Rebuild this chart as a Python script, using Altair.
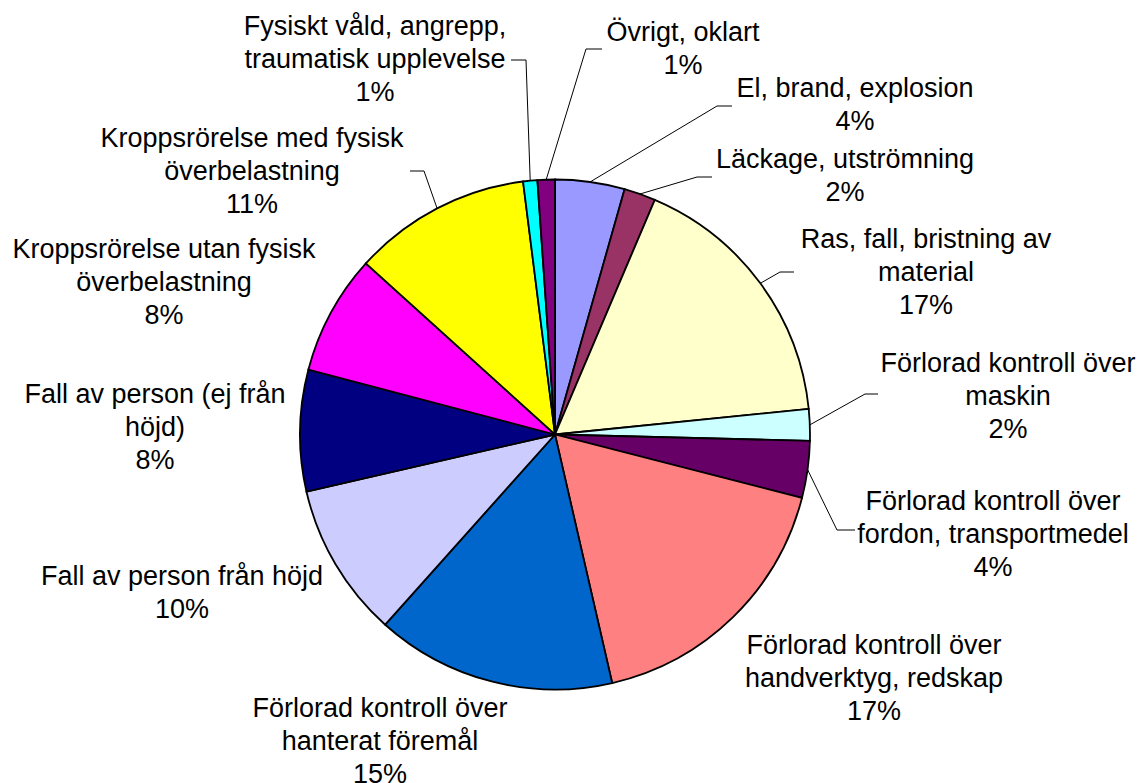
import math
import altair as alt
import pandas as pd

# ---------------- data ----------------
categories = [
    "El, brand, explosion",
    "Läckage, utströmning",
    "Ras, fall, bristning av material",
    "Förlorad kontroll över maskin",
    "Förlorad kontroll över fordon, transportmedel",
    "Förlorad kontroll över handverktyg, redskap",
    "Förlorad kontroll över hanterat föremål",
    "Fall av person från höjd",
    "Fall av person (ej från höjd)",
    "Kroppsrörelse utan fysisk överbelastning",
    "Kroppsrörelse med fysisk överbelastning",
    "Fysiskt våld, angrepp, traumatisk upplevelse",
    "Övrigt, oklart",
]
values = [4.4, 2.0, 17.0, 2.0, 3.6, 17.4, 15.2, 9.8, 7.7, 7.6, 11.3, 0.9, 1.1]
label_text = [
    "El, brand, explosion",
    "Läckage, utströmning",
    "Ras, fall, bristning av\nmaterial",
    "Förlorad kontroll över\nmaskin",
    "Förlorad kontroll över\nfordon, transportmedel",
    "Förlorad kontroll över\nhandverktyg, redskap",
    "Förlorad kontroll över\nhanterat föremål",
    "Fall av person från höjd",
    "Fall av person (ej från\nhöjd)",
    "Kroppsrörelse utan fysisk\növerbelastning",
    "Kroppsrörelse med fysisk\növerbelastning",
    "Fysiskt våld, angrepp,\ntraumatisk upplevelse",
    "Övrigt, oklart",
]

# ---------------- styles / layout ----------------
colors = ["#9999FF", "#993366", "#FFFFCC", "#CCFFFF", "#660066", "#FF8080",
          "#0066CC", "#CCCCFF", "#000080", "#FF00FF", "#FFFF00", "#00FFFF", "#800080"]
W, H = 1129, 775
CX, CY, R = 547.0, 426.5, 255.0
FONT = "Liberation Sans"
FS = 27
LH = 33
# label anchor (centre x, first baseline y) in view pixels
label_pos = [
    (847, 89), (837, 160), (918, 240), (1000, 364), (985, 502), (866, 646),
    (372, 709), (174, 577), (147, 395), (156, 250), (244, 139), (367, 27), (675, 33),
]
# leader lines: category index -> (elbow, end) in view pixels
leaders = {
    11: ((518, 52), (503, 52)),
    12: ((578, 41), (594, 41)),
    0: ((709, 98), (724, 98)),
    1: ((689, 169), (704, 169)),
    2: ((772, 264), (786, 264)),
    3: ((857, 386), (870, 386)),
    4: ((829, 522), (847, 522)),
    10: ((416, 163), (402, 163)),
}

# ---------------- tables ----------------
total = sum(values)
pie = pd.DataFrame({"idx": range(len(categories)), "category": categories, "value": values})

lab_rows = []
for i, (c, v, t) in enumerate(zip(categories, values, label_text)):
    lx, ly = label_pos[i]
    lab_rows.append({"category": c, "text": t + "\n" + f"{round(v / total * 100)}%",
                     "x": lx, "y": ly})
labels = pd.DataFrame(lab_rows)

line_rows = []
cum = 0.0
for i, v in enumerate(values):
    mid = (cum + v / 2) / total * 2 * math.pi
    cum += v
    if i in leaders:
        ex, ey = CX + R * math.sin(mid), CY - R * math.cos(mid)
        (bx, by), (tx, ty) = leaders[i]
        for k, (px, py) in enumerate([(ex, ey), (bx, by), (tx, ty)]):
            line_rows.append({"category": categories[i], "k": k, "x": px, "y": py})
lines = pd.DataFrame(line_rows)

xs = alt.Scale(domain=[0, W], range=[0, W], nice=False, zero=False)
ys = alt.Scale(domain=[0, H], range=[0, H], nice=False, zero=False)

arcs = alt.Chart(pie).mark_arc(outerRadius=R, stroke="black", strokeWidth=1.8).encode(
    theta=alt.Theta("value:Q", stack=True),
    order=alt.Order("idx:Q"),
    color=alt.Color("category:N", scale=alt.Scale(domain=categories, range=colors), legend=None),
    x=alt.value(CX),
    y=alt.value(CY),
)

leader = alt.Chart(lines).mark_line(color="black", strokeWidth=1).encode(
    x=alt.X("x:Q", scale=xs, axis=None),
    y=alt.Y("y:Q", scale=ys, axis=None),
    detail="category:N",
    order="k:Q",
)

text = alt.Chart(labels).mark_text(
    font=FONT, fontSize=FS, lineHeight=LH, lineBreak="\n",
    align="center", baseline="alphabetic", color="black",
).encode(
    x=alt.X("x:Q", scale=xs, axis=None),
    y=alt.Y("y:Q", scale=ys, axis=None),
    text="text:N",
)

chart = alt.layer(arcs, leader, text).properties(
    width=W, height=H, padding=0,
    autosize=alt.AutoSizeParams(type="none"),
).configure_view(stroke=None)

chart.save("out.html", embed_options={"renderer": "svg", "actions": False})
